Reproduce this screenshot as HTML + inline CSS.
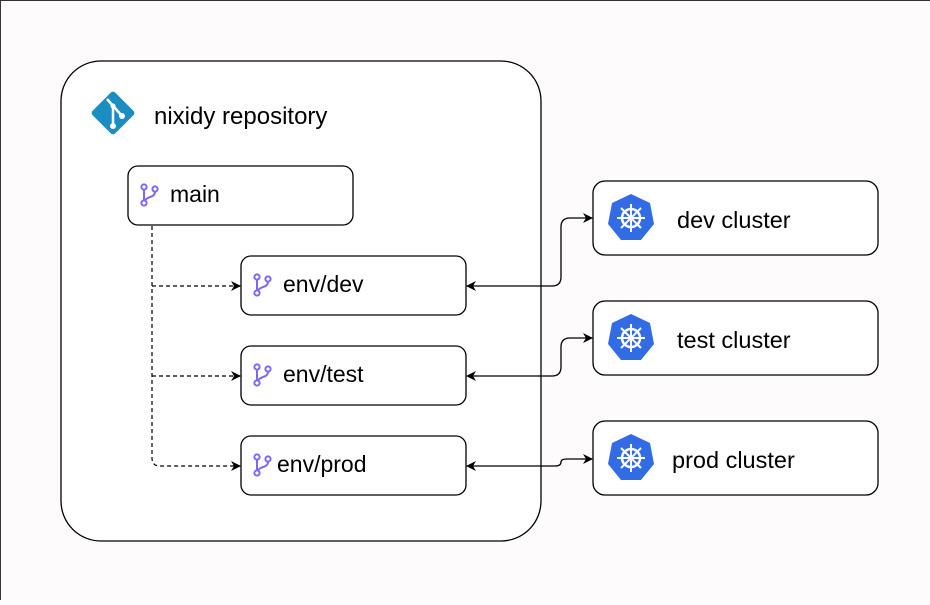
<!DOCTYPE html>
<html><head><style>
body{margin:0;background:#fdfbfb;}
svg text{font-family:"Liberation Sans",sans-serif;fill:#000;}
</style></head><body>
<svg width="930" height="600" xmlns="http://www.w3.org/2000/svg">
<defs>
<marker id="a" viewBox="0 0 10 10" refX="9" refY="5" markerWidth="10" markerHeight="10" orient="auto-start-reverse" markerUnits="userSpaceOnUse"><path d="M0,0 L10,5 L0,10 L3,5 Z" fill="#000"/></marker>
<g id="br"><circle cx="0" cy="-8" r="2.6" fill="none" stroke="#7b68ee" stroke-width="2"/><circle cx="0" cy="8" r="2.6" fill="none" stroke="#7b68ee" stroke-width="2"/><circle cx="11" cy="-6" r="2.6" fill="none" stroke="#7b68ee" stroke-width="2"/><path d="M0,-5.4 V5.4 M11,-3.4 C11,3 3,1 1,5.6" fill="none" stroke="#7b68ee" stroke-width="2"/></g>
<g id="k8"><polygon points="0,-24 19,-15 23,6 10,22 -10,22 -23,6 -19,-15" fill="#326ce5"/><circle r="9" fill="none" stroke="#fff" stroke-width="2.5"/><circle r="2.5" fill="#fff"/><g stroke="#fff" stroke-width="2"><line x1="0" y1="-14" x2="0" y2="14"/><line x1="-14" y1="0" x2="14" y2="0"/><line x1="-10" y1="-10" x2="10" y2="10"/><line x1="-10" y1="10" x2="10" y2="-10"/></g></g>
</defs>
<rect x="0.5" y="0.5" width="940" height="610" fill="none" stroke="#333"/>
<rect x="61" y="61" width="480" height="480" rx="40" fill="#fff" stroke="#000" stroke-width="1.3"/>
<g transform="translate(113,113) rotate(45)"><rect x="-16" y="-16" width="32" height="32" rx="3" fill="#1b8dc2"/></g>
<path d="M107,99 L122,116 M113,106 L113,125" stroke="#fff" stroke-width="2.5" fill="none"/><circle cx="113" cy="126" r="3" fill="#fff"/><circle cx="122" cy="116" r="3" fill="#fff"/><circle cx="113" cy="106" r="2.5" fill="#fff"/>
<text x="154" y="124" font-size="24">nixidy repository</text>
<rect x="128" y="166" width="225" height="59" rx="10" fill="#fff" stroke="#000" stroke-width="1.3"/>
<use href="#br" x="144" y="195"/><text x="170" y="202" font-size="23">main</text>
<rect x="241" y="256" width="225" height="59" rx="10" fill="#fff" stroke="#000" stroke-width="1.3"/>
<use href="#br" x="257" y="285"/><text x="283" y="292" font-size="23">env/dev</text>
<rect x="241" y="346" width="225" height="59" rx="10" fill="#fff" stroke="#000" stroke-width="1.3"/>
<use href="#br" x="257" y="375"/><text x="283" y="382" font-size="23">env/test</text>
<rect x="241" y="436" width="225" height="59" rx="10" fill="#fff" stroke="#000" stroke-width="1.3"/>
<use href="#br" x="257" y="465"/><text x="277" y="472" font-size="23">env/prod</text>
<g fill="none" stroke="#000" stroke-width="1.2" stroke-dasharray="4,3">
<path d="M152,226 V458 Q152,466 160,466 H240" marker-end="url(#a)"/>
<path d="M152,286 H240" marker-end="url(#a)"/>
<path d="M152,376 H240" marker-end="url(#a)"/>
</g>
<g fill="none" stroke="#000" stroke-width="1.3">
<path d="M467,286 H552 Q561,286 561,277 V227 Q561,218 570,218 H592" marker-start="url(#a)" marker-end="url(#a)"/>
<path d="M467,376 H552 Q561,376 561,367 V347 Q561,338 570,338 H592" marker-start="url(#a)" marker-end="url(#a)"/>
<path d="M467,466 H555 Q561,466 561,462 Q561,459 567,459 H592" marker-start="url(#a)" marker-end="url(#a)"/>
</g>
<rect x="593" y="181" width="285" height="74" rx="12" fill="#fff" stroke="#000" stroke-width="1.3"/>
<use href="#k8" x="631" y="218"/><text x="677" y="228" font-size="23.5">dev cluster</text>
<rect x="593" y="301" width="285" height="74" rx="12" fill="#fff" stroke="#000" stroke-width="1.3"/>
<use href="#k8" x="631" y="338"/><text x="677" y="348" font-size="23.5">test cluster</text>
<rect x="593" y="421" width="285" height="74" rx="12" fill="#fff" stroke="#000" stroke-width="1.3"/>
<use href="#k8" x="631" y="458"/><text x="672" y="468" font-size="23.5">prod cluster</text>
</svg>
</body></html>
